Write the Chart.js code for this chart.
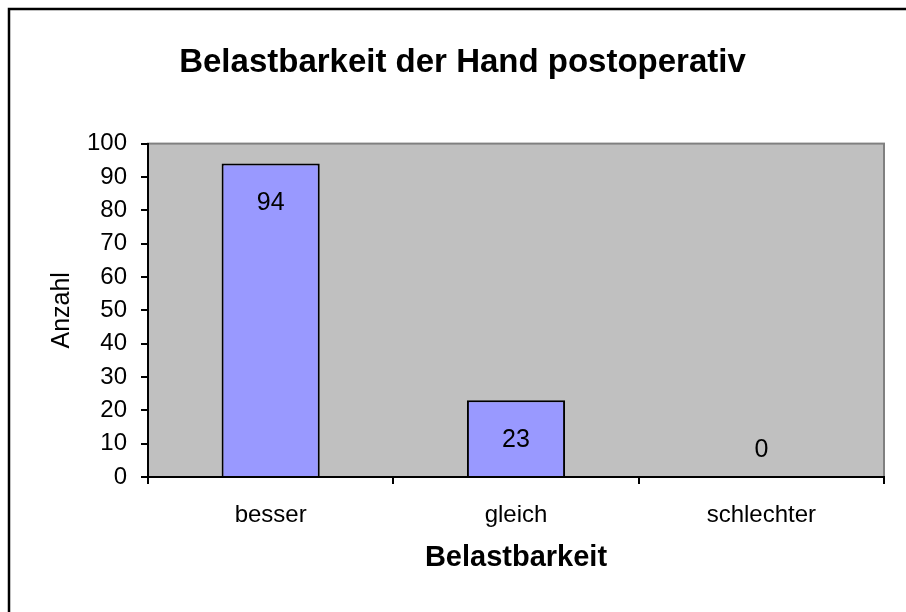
<!DOCTYPE html>
<html>
<head>
<meta charset="utf-8">
<script src="https://cdn.jsdelivr.net/npm/chart.js@4/dist/chart.umd.min.js"></script>
<style>
  body { margin: 0; background: #ffffff; }
  canvas { display: block; }
</style>
</head>
<body>
<canvas id="belastChart" width="906" height="612"></canvas>
<script>
/* ---------- data ---------- */

const categories = ["besser", "gleich", "schlechter"];

const anzahlValues = [94, 23, 0];

const yTicks = [0, 10, 20, 30, 40, 50, 60, 70, 80, 90, 100];

const chartTitle = "Belastbarkeit der Hand postoperativ";

const xTitle = "Belastbarkeit";

const yTitle = "Anzahl";

const FONT = "'Liberation Sans', Arial, sans-serif";

/* ---------- plugins ---------- */

// gray plot area + outer frame
const plotBackground = {
    id: "plotBackground",
    beforeDraw(chart) {
        const { ctx, chartArea: a } = chart;
        ctx.save();
        ctx.fillStyle = "#ffffff";
        ctx.fillRect(0, 0, chart.width, chart.height);
        ctx.strokeStyle = "#000000";
        ctx.lineWidth = 2.5;
        ctx.strokeRect(9, 9, 1200, 1200);
        ctx.fillStyle = "#c0c0c0";
        ctx.fillRect(a.left, a.top, a.right - a.left, a.bottom - a.top);
        ctx.strokeStyle = "#808080";
        ctx.lineWidth = 2;
        ctx.strokeRect(a.left, a.top, a.right - a.left, a.bottom - a.top);
        ctx.restore();
    }
};

// value labels inside the bar ends
const valueLabels = {
    id: "valueLabels",
    afterDatasetsDraw(chart) {
        const { ctx } = chart;
        const meta = chart.getDatasetMeta(0);
        const base = chart.scales.y.getPixelForValue(0);
        ctx.save();
        ctx.font = "25px " + FONT;
        ctx.fillStyle = "#000000";
        ctx.textAlign = "center";
        ctx.textBaseline = "middle";
        meta.data.forEach((bar, i) => {
            const y = Math.min(bar.y + 40, base - 27);
            ctx.fillText(String(anzahlValues[i]), bar.x, y);
        });
        ctx.restore();
    }
};

/* ---------- chart ---------- */

new Chart(document.getElementById("belastChart").getContext("2d"), {
    type: "bar",
    data: {
        labels: categories,
        datasets: [
            {
                label: yTitle,
                data: anzahlValues,
                backgroundColor: "#9999ff",
                borderColor: "#000000",
                borderWidth: 2,
                borderSkipped: "bottom",
                categoryPercentage: 1,
                barPercentage: 0.4
            }
        ]
    },
    options: {
        responsive: false,
        animation: false,
        layout: {
            padding: { left: 41, right: 22, top: 0, bottom: 0 }
        },
        plugins: {
            legend: { display: false },
            tooltip: { enabled: false },
            title: {
                display: true,
                text: chartTitle,
                color: "#000000",
                font: { family: FONT, size: 33, weight: "bold" },
                padding: { top: 43, bottom: 61 }
            }
        },
        scales: {
            x: {
                offset: true,
                afterFit(scale) { scale.height = 135; },
                grid: {
                    offset: true,
                    drawOnChartArea: false,
                    drawTicks: true,
                    tickLength: 7,
                    color: "#000000",
                    lineWidth: 2
                },
                border: { display: true, color: "#000000", width: 2 },
                ticks: {
                    color: "#000000",
                    padding: 17,
                    font: { family: FONT, size: 24 }
                },
                title: {
                    display: true,
                    text: xTitle,
                    color: "#000000",
                    font: { family: FONT, size: 29, weight: "bold" },
                    padding: { top: 0, bottom: 37 }
                }
            },
            y: {
                min: 0,
                max: 100,
                afterFit(scale) { scale.width = 107; },
                afterBuildTicks(scale) {
                    scale.ticks = yTicks.map(v => ({ value: v }));
                },
                grid: {
                    drawOnChartArea: false,
                    drawTicks: true,
                    tickLength: 7,
                    color: "#000000",
                    lineWidth: 2
                },
                border: { display: true, color: "#000000", width: 2 },
                ticks: {
                    color: "#000000",
                    padding: 14,
                    font: { family: FONT, size: 24 }
                },
                title: {
                    display: true,
                    text: yTitle,
                    color: "#000000",
                    font: { family: FONT, size: 25 },
                    padding: { top: 6, bottom: 0 }
                }
            }
        }
    },
    plugins: [plotBackground, valueLabels]
});
</script>
</body>
</html>
